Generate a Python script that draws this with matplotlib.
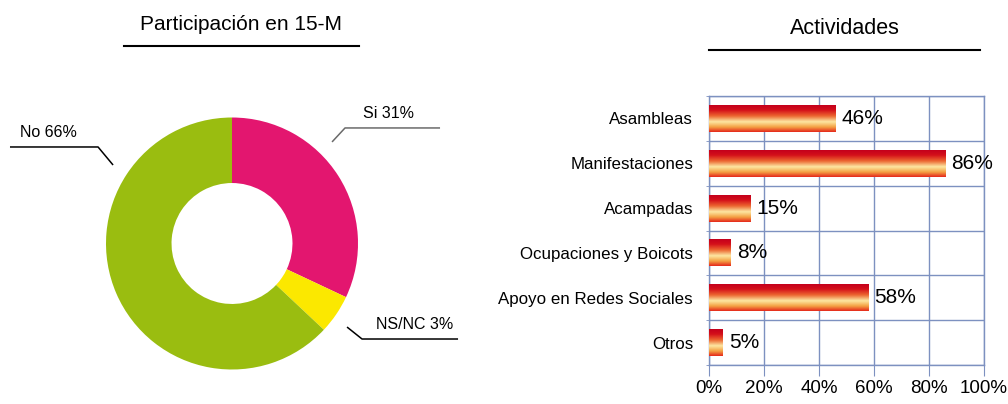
import numpy as np
import matplotlib
matplotlib.use("Agg")
import matplotlib.pyplot as plt
from matplotlib.colors import LinearSegmentedColormap
from matplotlib.lines import Line2D

# ---------------- data ----------------
part_labels = ["Si 31%", "NS/NC 3%", "No 66%"]
part_values = [32, 5, 63]          # wedge sizes as drawn in the picture
part_colors = ["#e3166f", "#fbe800", "#9abd10"]

act_categories = ["Asambleas", "Manifestaciones", "Acampadas",
                  "Ocupaciones y Boicots", "Apoyo en Redes Sociales", "Otros"]
act_values = [46, 86, 15, 8, 58, 5]
x_ticks = [0, 20, 40, 60, 80, 100]
x_ticklabels = ["0%", "20%", "40%", "60%", "80%", "100%"]

W, H = 1008, 404
fig = plt.figure(figsize=(W / 100, H / 100), dpi=100)
FONT = ["Liberation Sans", "DejaVu Sans"]


def fx(px):
    return px / W


def fy(py):
    return 1 - py / H


# ---------------- donut ----------------
cx, cy, R = 232, 243.5, 126
axd = fig.add_axes([0, 0, 480 / W, 1])
axd.pie(part_values, colors=part_colors, startangle=90, counterclock=False,
        radius=1.0, wedgeprops=dict(width=0.52, linewidth=0),
        center=(0, 0), frame=True)
axd.set_xlim((0 - cx) / R, (480 - cx) / R)
axd.set_ylim((cy - H) / R, cy / R)
axd.set_aspect("auto")
axd.axis("off")

# leader lines (data coordinates of the donut axes)
leaders = [
    dict(pts=[(0.794, 0.806), (0.897, 0.917), (1.651, 0.917)], color="#6a6a6a",
         text=part_labels[0], tx=1.246),
    dict(pts=[(-0.944, 0.623), (-1.063, 0.766), (-1.762, 0.766)], color="black",
         text=part_labels[2], tx=-1.46),
    dict(pts=[(0.913, -0.663), (1.032, -0.758), (1.794, -0.758)], color="black",
         text=part_labels[1], tx=1.452),
]
for ld in leaders:
    xs, ys = zip(*ld["pts"])
    axd.plot(xs, ys, color=ld["color"], lw=1.1, solid_capstyle="butt")
    axd.text(ld["tx"], ld["pts"][2][1] + 0.055, ld["text"], ha="center",
             va="bottom", fontsize=11.5, family=FONT, color="black")

# left title
fig.text(fx(241), fy(25), "Participación en 15-M", ha="center", va="center",
         fontsize=15, family=FONT)
fig.add_artist(Line2D([fx(124), fx(359)], [fy(46), fy(46)], color="black",
                      lw=1.5, transform=fig.transFigure))

# ---------------- bars ----------------
left_px, right_px, top_px, bot_px = 709, 984, 96, 365
axb = fig.add_axes([fx(left_px), fy(bot_px), (right_px - left_px) / W,
                    (bot_px - top_px) / H])
n = len(act_categories)
ypos = np.arange(n)

grad_cmap = LinearSegmentedColormap.from_list(
    "grad", [(0.0, "#c4001c"), (0.18, "#d4101a"), (0.4, "#ec6530"),
             (0.62, "#fde7a2"), (0.82, "#f4a244"), (1.0, "#e52a1c")])
grad = np.linspace(0, 1, 64).reshape(-1, 1)

bars = axb.barh(ypos, act_values, height=0.6, color="none", edgecolor="none",
                zorder=3)
for b, v in zip(bars, act_values):
    x0, y0 = b.get_x(), b.get_y()
    w, h = b.get_width(), b.get_height()
    im = axb.imshow(grad, cmap=grad_cmap, aspect="auto",
                    extent=(x0, x0 + w, y0 + h, y0), zorder=3,
                    interpolation="bilinear")
    im.set_clip_path(b)
    axb.text(x0 + w + 2.2, y0 + h / 2, f"{v}%", va="center",
             ha="left", fontsize=15, family=FONT, zorder=4)
axb.set_xlim(0, 100)
axb.set_ylim(n - 0.5, -0.5)

gcol = "#7d91c0"
axb.set_xticks(x_ticks)
axb.set_xticklabels(x_ticklabels, fontsize=13.5, family=FONT)
axb.set_yticks(ypos)
axb.set_yticklabels(act_categories, fontsize=12.2, family=FONT)
axb.set_yticks(np.arange(n + 1) - 0.5, minor=True)
axb.tick_params(axis="y", which="major", length=0, pad=11.5)
axb.tick_params(axis="y", which="minor", length=2, color=gcol)
axb.tick_params(axis="x", which="major", length=8, color=gcol, pad=3)
axb.grid(True, axis="x", which="major", color=gcol, lw=1, zorder=1)
axb.grid(True, axis="y", which="minor", color=gcol, lw=1, zorder=1)
axb.set_axisbelow(True)
for s in axb.spines.values():
    s.set_color(gcol)
    s.set_linewidth(1)

# right title
fig.text(fx(845), fy(28), "Actividades", ha="center", va="center",
         fontsize=15.5, family=FONT)
fig.add_artist(Line2D([fx(709), fx(980)], [fy(50), fy(50)], color="black",
                      lw=1.5, transform=fig.transFigure))

fig.savefig("out.png", dpi=100)
